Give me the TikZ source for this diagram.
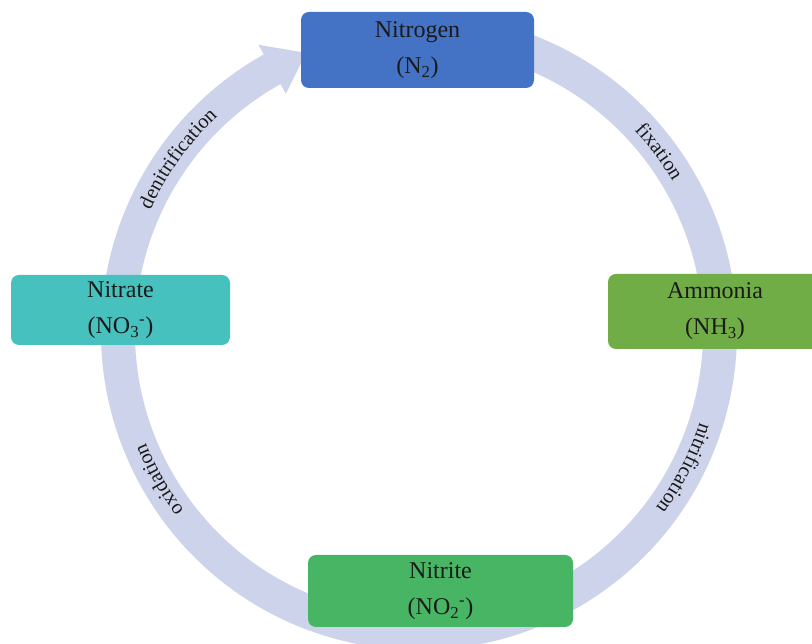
\documentclass[tikz,border=0pt]{standalone}
\usepackage{fontspec}
\setmainfont{Liberation Serif}
\usetikzlibrary{calc,decorations.text}
\definecolor{ringc}{HTML}{CDD3EA}
\definecolor{nblue}{HTML}{4472C4}
\definecolor{nteal}{HTML}{47C1BD}
\definecolor{ngreen}{HTML}{70AD47}
\definecolor{ngreen2}{HTML}{47B563}
\definecolor{txt}{HTML}{1A1A1A}
\newcommand\lblfont{\fontsize{20.5}{24}\selectfont}
\begin{document}
\begin{tikzpicture}[x=1pt,y=1pt,
  box/.style={rounded corners=8pt, inner sep=0pt, align=center,
    font=\fontsize{24}{36}\selectfont, text=txt},
  ringlabel/.style={decorate, decoration={text along path, text align=center, text={|\lblfont\color{txt}|#1}}}]
\useasboundingbox (0,0) rectangle (812,644);
\clip (0,0) rectangle (812,644);
\fill[white] (0,0) rectangle (812,644);
\coordinate (c) at (419,312);
% circular arrow
\fill[ringc] ($(c)+(80:318)$) arc[start angle=80, end angle=-240.8, radius=318]
  -- ($(c)+(119.2:329)$) -- ($(c)+(112:301)$) -- ($(c)+(119.2:273)$)
  -- ($(c)+(119.2:284)$) arc[start angle=-240.8, end angle=80, radius=284] -- cycle;
% labels along the ring
\path[ringlabel=fixation] ($(c)+(66.9:295)$) arc[start angle=66.9, end angle=6.9, radius=295];
\path[ringlabel=nitrification] ($(c)+(2.8:295)$) arc[start angle=2.8, end angle=-57.2, radius=295];
\path[ringlabel=oxidation] ($(c)+(239.6:295)$) arc[start angle=239.6, end angle=179.6, radius=295];
\path[ringlabel=denitrification] ($(c)+(174.3:295)$) arc[start angle=174.3, end angle=114.3, radius=295];
% boxes
\node[box, fill=nblue, minimum width=233pt, minimum height=76pt] (nitrogen) at (417.5,594) {Nitrogen\\(N\textsubscript{2})};
\node[box, fill=ngreen, minimum width=214pt, minimum height=75pt] (ammonia) at (715,332.5) {Ammonia\\(NH\textsubscript{3})};
\node[box, fill=ngreen2, minimum width=265pt, minimum height=72pt] (nitrite) at (440.5,53) {Nitrite\\(NO\textsubscript{2}\textsuperscript{-})};
\node[box, fill=nteal, minimum width=219pt, minimum height=70pt] (nitrate) at (120.5,334) {Nitrate\\(NO\textsubscript{3}\textsuperscript{-})};
\end{tikzpicture}
\end{document}
